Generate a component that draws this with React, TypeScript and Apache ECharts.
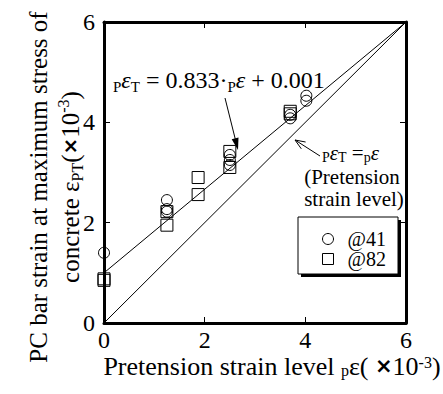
import React, { useEffect, useRef } from "react";
import * as echarts from "echarts";

// Data (strain values in units of 1e-3)
const circleX = [0, 1.25, 1.25, 1.25, 2.5, 2.5, 2.5, 3.7, 3.7, 4.02, 4.02];
const circleY = [1.4, 2.45, 2.27, 2.22, 3.35, 3.25, 3.15, 4.15, 4.08, 4.53, 4.43];
const squareX = [0, 0, 1.25, 1.25, 1.87, 1.87, 2.5, 2.5, 3.7, 3.7];
const squareY = [0.88, 0.85, 2.22, 1.95, 2.9, 2.56, 3.42, 3.1, 4.22, 4.17];
const fitSlope = 0.833;
const fitIntercept = 1.0;
const lineX = [0, 6];
const axisTicks = [0, 2, 4, 6];
const seriesNames = ["@41", "@82"];

const FONT = "'Liberation Serif', 'Times New Roman', serif";

export default function App() {
  const ref = useRef<HTMLDivElement>(null);
  useEffect(() => {
    if (!ref.current) return;
    const chart = echarts.init(ref.current, null, { renderer: "svg" });
    const tickLabel = { fontFamily: FONT, fontSize: 24, color: "#000" };
    const axisCommon = {
      type: "value",
      min: axisTicks[0],
      max: axisTicks[axisTicks.length - 1],
      interval: 2,
      splitLine: { show: false },
      axisLine: { show: true, onZero: false, lineStyle: { color: "#000", width: 3 } },
      axisTick: { show: true, inside: true, length: 6, lineStyle: { color: "#000", width: 1 } },
    };
    const sub = { fontFamily: FONT, fontSize: 15, lineHeight: 14, verticalAlign: "bottom", color: "#000" };
    const sup = { fontFamily: FONT, fontSize: 15, lineHeight: 14, verticalAlign: "top", color: "#000" };
    const option: any = {
      animation: false,
      textStyle: { fontFamily: FONT },
      grid: { left: 104, top: 22, width: 302, height: 301 },
      xAxis: [
        { ...axisCommon, position: "bottom", axisLabel: { ...tickLabel, margin: 7, lineHeight: 20 } },
        { ...axisCommon, position: "top", axisLabel: { show: false } },
      ],
      yAxis: [
        { ...axisCommon, position: "left", axisLabel: { ...tickLabel, margin: 9 } },
        { ...axisCommon, position: "right", axisLabel: { show: false } },
      ],
      legend: {
        orient: "vertical",
        left: 322,
        top: 229,
        padding: 0,
        itemWidth: 11,
        itemHeight: 11,
        itemGap: 0,
        textStyle: { fontFamily: FONT, fontSize: 20, color: "#000", padding: [0, 0, 0, 9] },
        data: [
          { name: seriesNames[0], icon: "circle", itemStyle: { color: "transparent", borderColor: "#000", borderWidth: 1 } },
          { name: seriesNames[1], icon: "rect", itemStyle: { color: "transparent", borderColor: "#000", borderWidth: 1 } },
        ],
        z: 10,
      },
      series: [
        {
          type: "line",
          data: lineX.map((x) => [x, fitSlope * x + fitIntercept]),
          symbol: "none",
          lineStyle: { color: "#000", width: 1 },
          silent: true,
        },
        {
          type: "line",
          data: lineX.map((x) => [x, x]),
          symbol: "none",
          lineStyle: { color: "#000", width: 1 },
          silent: true,
        },
        {
          name: seriesNames[0],
          type: "scatter",
          symbol: "circle",
          symbolSize: 11,
          data: circleX.map((x, i) => [x, circleY[i]]),
          itemStyle: { color: "transparent", borderColor: "#000", borderWidth: 1, opacity: 1 },
          z: 5,
        },
        {
          name: seriesNames[1],
          type: "scatter",
          symbol: "rect",
          symbolSize: 12,
          data: squareX.map((x, i) => [x, squareY[i]]),
          itemStyle: { color: "transparent", borderColor: "#000", borderWidth: 1, opacity: 1 },
          z: 5,
        },
      ],
      graphic: [
        // legend box with shadow
        { type: "rect", z: 1, shape: { x: 301, y: 220, width: 100, height: 57 }, style: { fill: "#000" } },
        { type: "rect", z: 2, shape: { x: 298, y: 217, width: 100, height: 57 }, style: { fill: "#fff", stroke: "#000", lineWidth: 1 } },
        // fit equation
        {
          type: "text",
          z: 20,
          x: 113,
          y: 80,
          style: {
            text: "{s|P}{e|ε}{s|T}{n| = 0.833·}{s|P}{e|ε}{n| + 0.001}",
            fontFamily: FONT,
            verticalAlign: "middle",
            align: "left",
            rich: {
              n: { fontFamily: FONT, fontSize: 24, lineHeight: 28, verticalAlign: "middle", color: "#000" },
              e: { fontFamily: FONT, fontSize: 24, fontStyle: "italic", lineHeight: 28, verticalAlign: "middle", color: "#000" },
              s: sub,
            },
          },
        },
        { type: "line", z: 20, shape: { x1: 225, y1: 98, x2: 237, y2: 146 }, style: { stroke: "#000", lineWidth: 1 } },
        { type: "polygon", z: 20, shape: { points: [[238, 150], [238.5, 137.6], [231.7, 139.2]] }, style: { fill: "#000" } },
        // equality line annotation
        { type: "line", z: 20, shape: { x1: 320, y1: 156, x2: 295, y2: 140 }, style: { stroke: "#000", lineWidth: 1 } },
        { type: "polyline", z: 20, shape: { points: [[305.6, 142.0], [295, 140], [301.3, 148.8]] }, style: { stroke: "#000", lineWidth: 1, fill: "none" } },
        {
          type: "text",
          z: 20,
          x: 322,
          y: 153,
          style: {
            text: "{s|P}{e|ε}{s|T}{n| =}{s|p}{e|ε}",
            fontFamily: FONT,
            verticalAlign: "middle",
            align: "left",
            rich: {
              n: { fontFamily: FONT, fontSize: 21, lineHeight: 22, verticalAlign: "middle", color: "#000" },
              e: { fontFamily: FONT, fontSize: 21, fontStyle: "italic", lineHeight: 22, verticalAlign: "middle", color: "#000" },
              s: { ...sub, fontSize: 14, lineHeight: 12 },
            },
          },
        },
        {
          type: "text",
          z: 20,
          x: 352,
          y: 177,
          style: {
            text: "(Pretension",
            fontFamily: FONT,
            fontSize: 21,
            align: "center",
            verticalAlign: "middle",
            fill: "#000",
          },
        },
        {
          type: "text",
          z: 20,
          x: 354,
          y: 199,
          style: {
            text: "strain level)",
            fontFamily: FONT,
            fontSize: 21,
            align: "center",
            verticalAlign: "middle",
            fill: "#000",
          },
        },
        // y axis title
        {
          type: "text",
          z: 20,
          x: 38,
          y: 187,
          rotation: Math.PI / 2,
          style: {
            text: "PC bar strain at maximum stress of",
            fontFamily: FONT,
            fontSize: 25,
            align: "center",
            verticalAlign: "middle",
            fill: "#000",
          },
        },
        {
          type: "text",
          z: 20,
          x: 70,
          y: 187,
          rotation: Math.PI / 2,
          style: {
            text: "{n|concrete ε}{s|PT}{n|(}{x|×}{n|10}{u|-3}{n|)}",
            fontFamily: FONT,
            align: "center",
            verticalAlign: "middle",
            rich: {
              n: { fontFamily: FONT, fontSize: 25, lineHeight: 30, verticalAlign: "middle", color: "#000" },
              x: { fontFamily: "'DejaVu Sans'", fontWeight: "bold", fontSize: 20, lineHeight: 30, verticalAlign: "middle", color: "#000" },
              s: { ...sub, fontSize: 16, lineHeight: 16 },
              u: { ...sup, fontSize: 16, lineHeight: 14 },
            },
          },
        },
        // x axis title
        {
          type: "text",
          z: 20,
          x: 272,
          y: 366,
          style: {
            text: "{n|Pretension strain level }{s|p}{n|ε( }{x|×}{n|10}{u|-3}{n|)}",
            fontFamily: FONT,
            align: "center",
            verticalAlign: "middle",
            rich: {
              n: { fontFamily: FONT, fontSize: 26, lineHeight: 24, verticalAlign: "middle", color: "#000" },
              x: { fontFamily: "'DejaVu Sans'", fontWeight: "bold", fontSize: 21, lineHeight: 24, verticalAlign: "middle", color: "#000" },
              s: { ...sub, fontSize: 16, lineHeight: 8 },
              u: { ...sup, fontSize: 16, lineHeight: 12 },
            },
          },
        },
      ],
    };
    chart.setOption(option);
    return () => chart.dispose();
  }, []);
  return <div ref={ref} style={{ width: 443, height: 394, position: "absolute", left: 0, top: 0 }} />;
}
